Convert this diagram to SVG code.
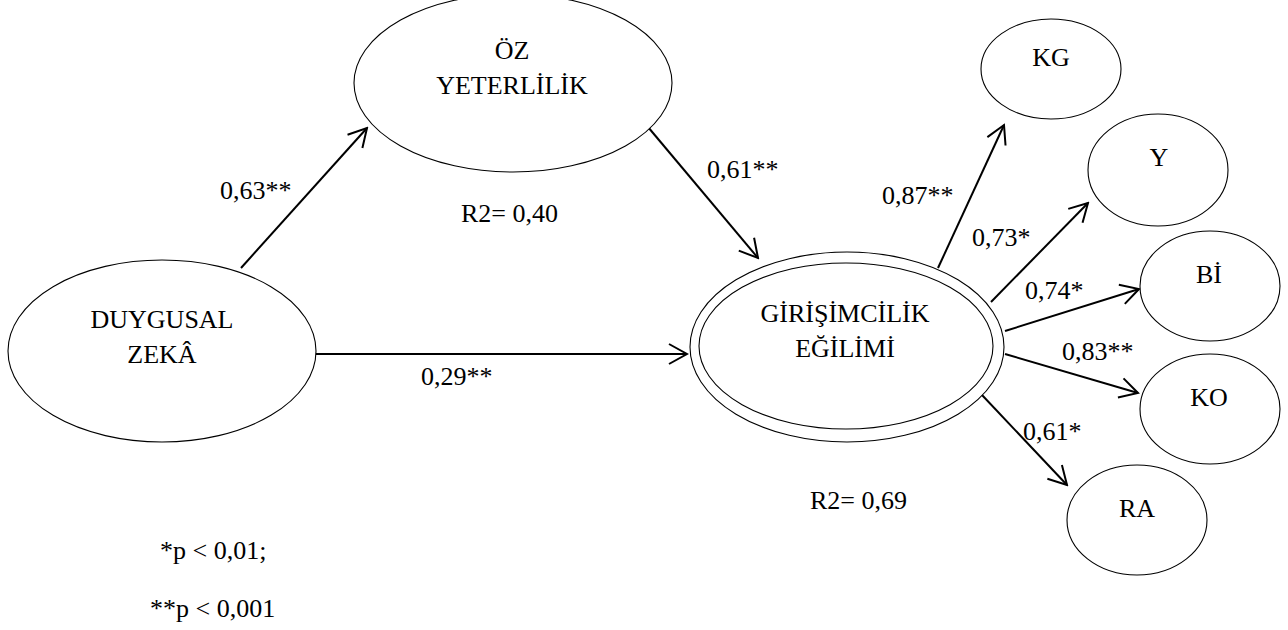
<svg xmlns="http://www.w3.org/2000/svg" width="1288" height="630" viewBox="0 0 1288 630">
  <defs>
    <marker id="arr" viewBox="-20 -12 22 24" markerWidth="22" markerHeight="24" refX="0" refY="0" orient="auto" markerUnits="userSpaceOnUse">
      <path d="M-18,-10 L0,0 L-18,10" fill="none" stroke="#000" stroke-width="2" stroke-linejoin="miter"/>
    </marker>
  </defs>
  <style>
    .node ellipse { fill: #fff; stroke: #000; stroke-width: 1.1; }
    .c { text-anchor: middle; }
    .edge { stroke: #000; stroke-width: 2; fill: none; marker-end: url(#arr); }
  </style>
  <rect width="1288" height="630" fill="#fff"/>

  <g id="connectors">
    <line class="edge" x1="241" y1="268" x2="367" y2="128"/>
    <line class="edge" x1="648" y1="127" x2="758" y2="258"/>
    <line class="edge" x1="316" y1="354" x2="687" y2="354"/>
    <line class="edge" x1="938" y1="268" x2="1004" y2="125"/>
    <line class="edge" x1="991" y1="302" x2="1088" y2="203"/>
    <line class="edge" x1="1005" y1="331" x2="1139" y2="289"/>
    <line class="edge" x1="1005" y1="354" x2="1138" y2="393"/>
    <line class="edge" x1="982" y1="395" x2="1067" y2="485"/>
  </g>

  <g font-family="'Liberation Serif', 'DejaVu Serif', serif" font-size="26" fill="#000">
  <g id="node-dz" class="node">
    <ellipse cx="162" cy="351" rx="154" ry="91"/>
    <text class="c" x="162" y="328">DUYGUSAL</text>
    <text class="c" x="162" y="363">ZEKÂ</text>
  </g>

  <g id="node-oz" class="node">
    <ellipse cx="513" cy="83" rx="159" ry="89"/>
    <text class="c" x="512" y="59">ÖZ</text>
    <text class="c" x="512" y="94">YETERLİLİK</text>
  </g>

  <g id="node-ge" class="node">
    <ellipse cx="847" cy="347" rx="157" ry="95"/>
    <ellipse cx="846" cy="346" rx="147" ry="83"/>
    <text class="c" x="845" y="322">GİRİŞİMCİLİK</text>
    <text class="c" x="845" y="357">EĞİLİMİ</text>
  </g>

  <g id="node-kg" class="node">
    <ellipse cx="1051" cy="69" rx="70" ry="50"/>
    <text class="c" x="1051" y="66">KG</text>
  </g>
  <g id="node-y" class="node">
    <ellipse cx="1158" cy="170" rx="70" ry="56"/>
    <text class="c" x="1159" y="166">Y</text>
  </g>
  <g id="node-bi" class="node">
    <ellipse cx="1210" cy="286" rx="70" ry="55"/>
    <text class="c" x="1209" y="283">Bİ</text>
  </g>
  <g id="node-ko" class="node">
    <ellipse cx="1210" cy="409" rx="70" ry="55"/>
    <text class="c" x="1209" y="406">KO</text>
  </g>
  <g id="node-ra" class="node">
    <ellipse cx="1137" cy="520" rx="70" ry="55"/>
    <text class="c" x="1137" y="517">RA</text>
  </g>

  <g id="labels">
    <text x="220" y="199">0,63**</text>
    <text x="707" y="178">0,61**</text>
    <text x="461" y="222">R2= 0,40</text>
    <text x="421" y="385">0,29**</text>
    <text x="810" y="509">R2= 0,69</text>
    <text x="882" y="204">0,87**</text>
    <text x="972" y="246">0,73*</text>
    <text x="1025" y="299">0,74*</text>
    <text x="1062" y="360">0,83**</text>
    <text x="1023" y="440">0,61*</text>
    <text x="160" y="559">*p &lt; 0,01;</text>
    <text x="150" y="617">**p &lt; 0,001</text>
  </g>
  </g>
</svg>
